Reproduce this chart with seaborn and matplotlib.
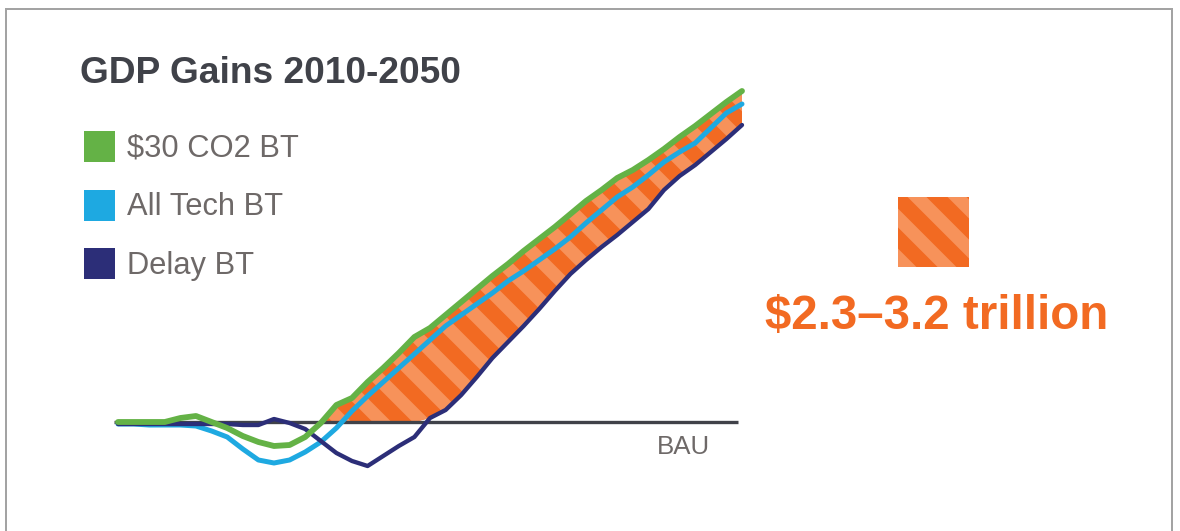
import numpy as np
import pandas as pd
import matplotlib
matplotlib.use("Agg")
import matplotlib.pyplot as plt
from matplotlib.patches import Patch, Rectangle
import seaborn as sns

# GDP difference versus business-as-usual, per scenario (2010-2050)
years = np.arange(2010, 2051)
co2_30 = [0.00, 0.00, 0.00, 0.00, 0.04, 0.06, 0.00, -0.06, -0.14, -0.20,
          -0.24, -0.23, -0.15, -0.01, 0.17, 0.24, 0.40, 0.54, 0.69, 0.85,
          0.94, 1.07, 1.20, 1.33, 1.46, 1.58, 1.71, 1.83, 1.95, 2.08,
          2.21, 2.32, 2.44, 2.52, 2.62, 2.73, 2.85, 2.96, 3.08, 3.20,
          3.31]
all_tech = [-0.02, -0.02, -0.03, -0.03, -0.03, -0.04, -0.09, -0.15, -0.27, -0.38,
            -0.41, -0.38, -0.30, -0.20, -0.06, 0.11, 0.26, 0.40, 0.54, 0.68,
            0.82, 0.96, 1.07, 1.18, 1.29, 1.41, 1.51, 1.62, 1.73, 1.85,
            1.99, 2.12, 2.25, 2.35, 2.47, 2.60, 2.70, 2.79, 2.94, 3.09,
            3.18]
delay = [-0.02, -0.02, -0.02, -0.02, -0.02, -0.02, -0.02, -0.02, -0.03, -0.03,
         0.03, -0.01, -0.07, -0.19, -0.31, -0.39, -0.44, -0.34, -0.24, -0.15,
         0.04, 0.12, 0.27, 0.45, 0.64, 0.80, 0.96, 1.13, 1.31, 1.48,
         1.62, 1.75, 1.87, 2.00, 2.13, 2.32, 2.46, 2.57, 2.70, 2.83,
         2.97]

scenarios = ["$30 CO2 BT", "All Tech BT", "Delay BT"]
colors = ["#64B246", "#1EA9E1", "#2C2E78"]
widths = [3.5, 3.0, 2.6]
title = "GDP Gains 2010-2050"
gain_label = "$2.3\u20133.2 trillion"
baseline_label = "BAU"
gain_start = 2023

ORANGE = "#F26A22"
ORANGE_LIGHT = "#F7925A"
TEXT_GRAY = "#6E6968"
TITLE_GRAY = "#404249"

sns.set_style("white")
plt.rcParams["font.family"] = ["Liberation Sans", "DejaVu Sans"]
plt.rcParams["hatch.linewidth"] = 8.0

W, H, DPI = 1180, 531, 120
fig = plt.figure(figsize=(W / DPI, H / DPI), dpi=DPI)
fig.patch.set_facecolor("white")

# Outer frame of the panel (open at the bottom)
fig.add_artist(Rectangle((6 / W, -0.05), 1166 / W, 1.05 - 9 / H,
                         transform=fig.transFigure, fill=False,
                         edgecolor="#A3A3A3", linewidth=1.2))

ax = fig.add_axes([100 / W, 31 / H, 660 / W, 420 / H])
ax.set_xlim(2008.846, 2051.154)
ax.set_ylim(-0.78, 3.42)

df = pd.DataFrame({
    "year": np.tile(years, 3),
    "gain": np.concatenate([co2_30, all_tech, delay]),
    "scenario": np.repeat(scenarios, len(years)),
})

# Hatched band of gains above BAU, between the highest and lowest scenario
upper = np.maximum(np.array(co2_30), 0)
lower = np.maximum(np.array(delay), 0)
ax.fill_between(years, lower, upper, where=years >= gain_start,
                interpolate=True, facecolor=ORANGE, edgecolor=ORANGE_LIGHT,
                hatch="\\", linewidth=0, zorder=1)

# BAU reference line
ax.hlines(0, years[0] - 0.25, years[-1] - 0.25, color=TITLE_GRAY,
          linewidth=2.0, zorder=2)

sns.lineplot(data=df, x="year", y="gain", hue="scenario", size="scenario",
             hue_order=[scenarios[1], scenarios[2], scenarios[0]],
             palette=dict(zip(scenarios, colors)),
             sizes=dict(zip(scenarios, widths)),
             legend=False, ax=ax, zorder=3,
             solid_capstyle="round", solid_joinstyle="round")
ax.set_axis_off()

fig.text(80 / W, 1 - 83 / H, title, fontsize=22.3, fontweight="bold",
         color=TITLE_GRAY, va="baseline", ha="left")

handles = [Patch(facecolor=c, edgecolor="none") for c in colors]
fig.legend(handles, [s.replace("$", r"\$") for s in scenarios],
           loc="upper left", bbox_to_anchor=(84 / W, 1 - 131 / H),
           frameon=False, borderpad=0, borderaxespad=0,
           handlelength=1.0, handleheight=1.17, handletextpad=0.4,
           labelspacing=0.83, prop={"size": 18.5}, labelcolor=TEXT_GRAY)

fig.text(657 / W, 1 - 454 / H, baseline_label, fontsize=15.5,
         color=TEXT_GRAY, va="baseline", ha="left")

fig.add_artist(Rectangle((898 / W, 1 - 267 / H), 71 / W, 70 / H,
                         transform=fig.transFigure, facecolor=ORANGE,
                         edgecolor=ORANGE_LIGHT, hatch="\\", linewidth=0))

fig.text(765 / W, 1 - 329 / H, gain_label.replace("$", r"\$"), fontsize=28.5,
         fontweight="bold", color=ORANGE, va="baseline", ha="left")

fig.savefig("out.png", dpi=DPI, facecolor="white")
